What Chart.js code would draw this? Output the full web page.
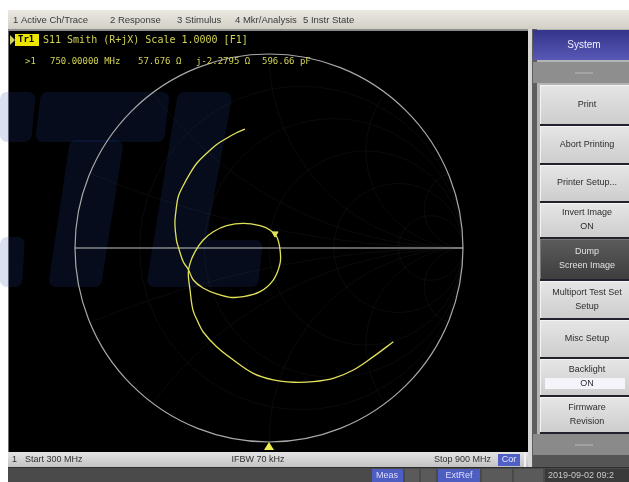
<!DOCTYPE html>
<html>
<head>
<meta charset="utf-8">
<script src="https://cdn.jsdelivr.net/npm/chart.js@4/dist/chart.umd.min.js"></script>
<style>
  html, body { margin: 0; padding: 0; background: #fff; }
  canvas { display: block; }
</style>
</head>
<body>
<canvas id="smithChart" width="629" height="482"></canvas>
<script>
const gammaRe = [-0.124, -0.170, -0.218, -0.273, -0.321, -0.371, -0.407, -0.443, -0.468, -0.479,
    -0.485, -0.477, -0.468, -0.442, -0.416, -0.390, -0.340, -0.270, -0.201, -0.132,
    -0.046, 0.022, 0.057, 0.057, 0.040, 0.005, -0.046, -0.132, -0.218, -0.287,
    -0.339, -0.381, -0.407, -0.416, -0.407, -0.392, -0.366, -0.339, -0.270, -0.184,
    -0.081, 0.022, 0.125, 0.228, 0.331, 0.435, 0.538, 0.641];
const gammaIm = [0.613, 0.593, 0.566, 0.531, 0.488, 0.438, 0.385, 0.320, 0.264, 0.196,
    0.127, 0.041, 0.007, -0.071, -0.110, -0.165, -0.206, -0.237, -0.254, -0.251,
    -0.225, -0.165, -0.079, -0.010, 0.058, 0.093, 0.115, 0.127, 0.115, 0.084,
    0.041, -0.019, -0.079, -0.130, -0.216, -0.320, -0.381, -0.433, -0.509, -0.577,
    -0.646, -0.680, -0.692, -0.689, -0.672, -0.629, -0.560, -0.483];

const markerRe = [0.031];
const markerIm = [0.074];

const smithR = [0.2, 0.5, 1, 2, 5];
const smithX = [0.2, 0.5, 1, 2, 5];

const menuItems = ['1 Active Ch/Trace', '2 Response', '3 Stimulus', '4 Mkr/Analysis', '5 Instr State'];
const traceTitle = 'S11 Smith (R+jX) Scale 1.0000 [F1]';
const markerReadout = ['>1', '750.00000 MHz', '57.676 Ω', 'j-2.2795 Ω', '596.66 pF'];
const softkeyLabels = [
    ['Print'], ['Abort Printing'], ['Printer Setup...'], ['Invert Image', 'ON'],
    ['Dump', 'Screen Image'], ['Multiport Test Set', 'Setup'], ['Misc Setup'],
    ['Backlight', 'ON'], ['Firmware', 'Revision'],
];
const statusLabels = ['Start 300 MHz', 'IFBW 70 kHz', 'Stop 900 MHz', 'Cor'];
const footerLabels = ['Meas', 'ExtRef', '2019-09-02 09:2'];

const traceYellow = '#e2e25a';
const textYellow = '#d2d258';

function roundPoly(ctx, pts, r) {
    ctx.beginPath();
    const n = pts.length;
    const start = [(pts[n - 1][0] + pts[0][0]) / 2, (pts[n - 1][1] + pts[0][1]) / 2];
    ctx.moveTo(start[0], start[1]);
    for (let i = 0; i < n; i++) {
        const p = pts[i];
        const q = pts[(i + 1) % n];
        ctx.arcTo(p[0], p[1], q[0], q[1], r);
    }
    ctx.closePath();
}

function drawButton(ctx, x, y0, y1, dark) {
    const g = ctx.createLinearGradient(0, y0, 0, y1);
    if (dark) {
        g.addColorStop(0, '#5c5c5c');
        g.addColorStop(1, '#3e3e3e');
    } else {
        g.addColorStop(0, '#e6e6e6');
        g.addColorStop(1, '#cdcdcd');
    }
    ctx.fillStyle = g;
    ctx.fillRect(x, y0, 629 - x, y1 - y0);
    ctx.fillStyle = dark ? '#777' : '#f4f4f4';
    ctx.fillRect(x, y0, 629 - x, 1);
    ctx.fillRect(x, y0, 1, y1 - y0);
    ctx.fillStyle = '#22222e';
    ctx.fillRect(x, y1, 629 - x, 2);
}

const chromePlugin = {
    id: 'chrome',
    beforeDraw(chart) {
        const ctx = chart.ctx;
        ctx.save();
        ctx.fillStyle = '#ffffff';
        ctx.fillRect(0, 0, 629, 482);

        // menu bar
        let g = ctx.createLinearGradient(0, 10, 0, 29);
        g.addColorStop(0, '#ebe9e2');
        g.addColorStop(1, '#d2cfc6');
        ctx.fillStyle = g;
        ctx.fillRect(8, 10, 621, 19);
        ctx.fillStyle = '#8c8c8c';
        ctx.fillRect(8, 29, 621, 2);
        ctx.font = '9.5px "Liberation Sans", Arial, sans-serif';
        ctx.fillStyle = '#3a3a3a';
        ctx.textBaseline = 'middle';
        const menuX = [13, 110, 177, 235, 303];
        menuItems.forEach((m, i) => ctx.fillText(m, menuX[i], 20));

        // measurement screen
        ctx.fillStyle = '#000';
        ctx.fillRect(8, 31, 520, 421);
        ctx.fillStyle = '#6a6a6a';
        ctx.fillRect(8, 31, 1, 421);

        // watermark logo
        ctx.fillStyle = 'rgba(35, 70, 160, 0.17)';
        const shapes = [
            [[0, 92], [36, 92], [31, 142], [0, 142]],
            [[0, 237], [25, 237], [22, 287], [0, 287]],
            [[41, 92], [170, 92], [164, 142], [35, 142]],
            [[70, 140], [124, 140], [101, 287], [48, 287]],
            [[178, 92], [233, 92], [206, 240], [263, 240], [258, 287], [146, 287]],
        ];
        shapes.forEach(s => { roundPoly(ctx, s, 7); ctx.fill(); });

        // status bar
        g = ctx.createLinearGradient(0, 452, 0, 467);
        g.addColorStop(0, '#e4e4e4');
        g.addColorStop(1, '#c2c2c2');
        ctx.fillStyle = g;
        ctx.fillRect(8, 452, 520, 15);
        ctx.fillStyle = '#f2f2f2';
        ctx.fillRect(524, 452, 2, 15);
        ctx.font = '9px "Liberation Sans", Arial, sans-serif';
        ctx.fillStyle = '#303030';
        ctx.fillText('1', 12, 460);
        ctx.fillText(statusLabels[0], 25, 460);
        ctx.textAlign = 'center';
        ctx.fillText(statusLabels[1], 258, 460);
        ctx.textAlign = 'right';
        ctx.fillText(statusLabels[2], 491, 460);
        ctx.fillStyle = '#4f5fc4';
        ctx.fillRect(498, 454, 22, 12);
        ctx.fillStyle = '#e8eaff';
        ctx.textAlign = 'center';
        ctx.fillText(statusLabels[3], 509, 460);

        // footer
        ctx.fillStyle = '#4a4a4a';
        ctx.fillRect(8, 467, 621, 15);
        ctx.fillStyle = '#2e2e2e';
        ctx.fillRect(8, 467, 621, 1);
        ctx.fillStyle = '#4e5ec0';
        ctx.fillRect(372, 469, 31, 13);
        ctx.fillRect(438, 469, 42, 13);
        ctx.fillStyle = '#5a5a5a';
        ctx.fillRect(405, 469, 14, 13);
        ctx.fillRect(421, 469, 15, 13);
        ctx.fillRect(482, 469, 30, 13);
        ctx.fillRect(514, 469, 29, 13);
        ctx.fillStyle = '#3a3a3a';
        ctx.fillRect(545, 469, 84, 13);
        ctx.fillStyle = '#dcdcff';
        ctx.fillText(footerLabels[0], 387, 476);
        ctx.fillText(footerLabels[1], 459, 476);
        ctx.fillStyle = '#c8c8c8';
        ctx.textAlign = 'left';
        ctx.fillText(footerLabels[2], 548, 476);

        // softkey panel
        ctx.fillStyle = '#d6d6d6';
        ctx.fillRect(528, 29, 4, 438);
        ctx.fillStyle = '#5e5e5e';
        ctx.fillRect(532, 29, 5, 438);
        ctx.fillStyle = '#b4b4b4';
        ctx.fillRect(537, 29, 92, 438);
        g = ctx.createLinearGradient(0, 30, 0, 60);
        g.addColorStop(0, '#34348a');
        g.addColorStop(1, '#5858b6');
        ctx.fillStyle = g;
        ctx.fillRect(533, 30, 96, 30);
        ctx.fillStyle = '#f0f0ff';
        ctx.font = '10px "Liberation Sans", Arial, sans-serif';
        ctx.textAlign = 'center';
        ctx.fillText('System', 584, 45);
        ctx.fillStyle = '#8e8e8e';
        ctx.fillRect(533, 62, 96, 21);
        ctx.fillStyle = '#a4a4a4';
        ctx.fillRect(575, 72, 18, 2);

        const keyRows = [[85, 124], [126, 163], [165, 201], [203, 237], [239, 279],
            [281, 318], [320, 357], [359, 395], [397, 432]];
        ctx.font = '9px "Liberation Sans", Arial, sans-serif';
        keyRows.forEach((r, i) => {
            const dark = i === 4;
            drawButton(ctx, 540, r[0], r[1], dark);
            const lines = softkeyLabels[i];
            const cy = (r[0] + r[1]) / 2;
            if (i === 7) {
                ctx.fillStyle = '#f4f4fa';
                ctx.fillRect(545, 378, 80, 11);
            }
            ctx.fillStyle = dark ? '#e2e2e2' : '#2c2c2c';
            if (lines.length === 1) {
                ctx.fillText(lines[0], 587, cy);
            } else {
                ctx.fillText(lines[0], 587, cy - 7);
                ctx.fillText(lines[1], 587, cy + 7);
            }
        });
        ctx.fillStyle = '#8a8a8a';
        ctx.fillRect(533, 434, 96, 21);
        ctx.fillStyle = '#a2a2a2';
        ctx.fillRect(575, 444, 18, 2);
        ctx.fillStyle = '#555';
        ctx.fillRect(533, 455, 96, 12);

        // faint smith grid
        const xs = chart.scales.x;
        const ys = chart.scales.y;
        const cx = xs.getPixelForValue(0);
        const cyy = ys.getPixelForValue(0);
        const rad = xs.getPixelForValue(1) - cx;
        ctx.save();
        ctx.beginPath();
        ctx.arc(cx, cyy, rad, 0, Math.PI * 2);
        ctx.clip();
        ctx.strokeStyle = 'rgba(255, 255, 255, 0.045)';
        ctx.lineWidth = 1;
        smithR.forEach(r => {
            ctx.beginPath();
            ctx.arc(xs.getPixelForValue(r / (1 + r)), cyy, rad / (1 + r), 0, Math.PI * 2);
            ctx.stroke();
        });
        smithX.forEach(x => {
            [1, -1].forEach(sgn => {
                ctx.beginPath();
                ctx.arc(xs.getPixelForValue(1), ys.getPixelForValue(sgn / x), rad / x, 0, Math.PI * 2);
                ctx.stroke();
            });
        });
        ctx.restore();

        ctx.strokeStyle = '#a9a9a9';
        ctx.lineWidth = 1.2;
        ctx.beginPath();
        ctx.arc(cx, cyy, rad, 0, Math.PI * 2);
        ctx.stroke();
        ctx.strokeStyle = '#c4c4c4';
        ctx.beginPath();
        ctx.moveTo(cx - rad, cyy);
        ctx.lineTo(cx + rad, cyy);
        ctx.stroke();
        ctx.restore();
    },
    afterDraw(chart) {
        const ctx = chart.ctx;
        ctx.save();
        ctx.textBaseline = 'middle';
        // trace title
        ctx.fillStyle = textYellow;
        ctx.beginPath();
        ctx.moveTo(10, 35);
        ctx.lineTo(15, 40);
        ctx.lineTo(10, 45);
        ctx.fill();
        ctx.fillStyle = '#ece600';
        ctx.fillRect(15, 34, 24, 12);
        ctx.fillStyle = '#000';
        ctx.font = 'bold 9px "DejaVu Sans Mono", monospace';
        ctx.fillText('Tr1', 18, 40);
        ctx.fillStyle = textYellow;
        ctx.font = '10px "DejaVu Sans Mono", monospace';
        ctx.fillText(traceTitle, 43, 40);
        ctx.font = '9px "DejaVu Sans Mono", monospace';
        const readoutX = [25, 50, 138, 196, 262];
        markerReadout.forEach((t, i) => ctx.fillText(t, readoutX[i], 62));

        // reference position marker
        const cx = chart.scales.x.getPixelForValue(0);
        ctx.fillStyle = '#ecec50';
        ctx.beginPath();
        ctx.moveTo(cx, 442);
        ctx.lineTo(cx + 5, 450);
        ctx.lineTo(cx - 5, 450);
        ctx.closePath();
        ctx.fill();
        ctx.restore();
    },
};

const tracePoints = gammaRe.map((re, i) => ({ x: re, y: gammaIm[i] }));
const markerPoints = markerRe.map((re, i) => ({ x: re, y: markerIm[i] }));

new Chart(document.getElementById('smithChart').getContext('2d'), {
    type: 'scatter',
    data: {
        datasets: [
            {
                label: 'S11',
                data: tracePoints,
                showLine: true,
                borderColor: traceYellow,
                borderWidth: 1.3,
                pointRadius: 0,
                tension: 0.35,
            },
            {
                label: 'Marker 1',
                data: markerPoints,
                showLine: false,
                pointStyle: 'triangle',
                rotation: 180,
                pointRadius: 3.5,
                backgroundColor: traceYellow,
                borderColor: traceYellow,
            },
        ],
    },
    options: {
        responsive: false,
        animation: false,
        layout: { padding: { left: 75, right: 166, top: 54, bottom: 40 } },
        plugins: { legend: { display: false }, tooltip: { enabled: false } },
        scales: {
            x: { type: 'linear', min: -1, max: 1, display: false },
            y: { type: 'linear', min: -1, max: 1, display: false },
        },
    },
    plugins: [chromePlugin],
});
</script>
</body>
</html>
